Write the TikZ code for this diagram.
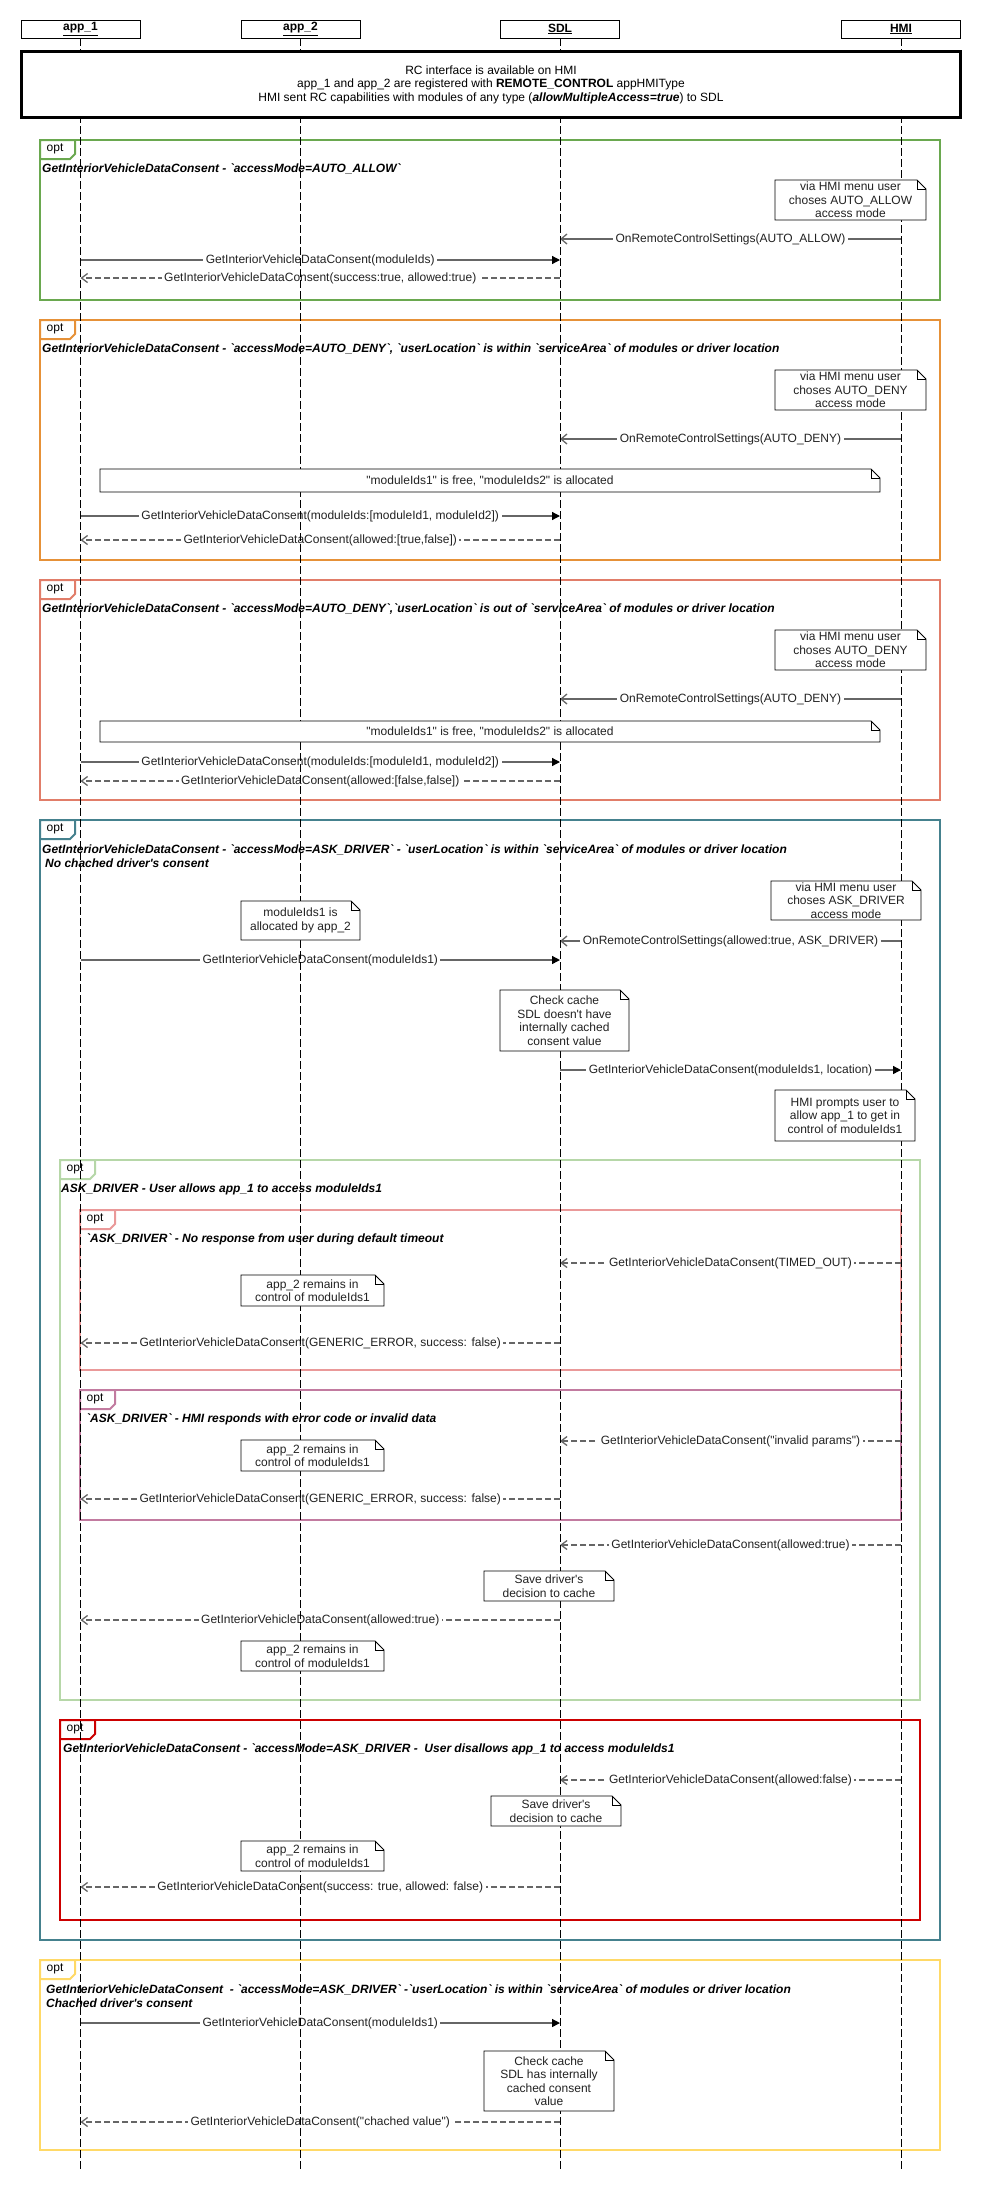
\documentclass[tikz,border=0pt]{standalone}
\usepackage{fontspec}
\setmainfont{Liberation Sans}[Ligatures=TeXOff]
\usetikzlibrary{arrows.meta}
\definecolor{cgreen}{RGB}{106,168,79}
\definecolor{corange}{RGB}{230,145,56}
\definecolor{csalmon}{RGB}{225,125,105}
\definecolor{cteal}{RGB}{69,129,142}
\definecolor{clgreen}{RGB}{182,215,168}
\definecolor{cpink}{RGB}{234,153,153}
\definecolor{cmag}{RGB}{194,123,160}
\definecolor{cred}{RGB}{204,0,0}
\definecolor{cyellow}{RGB}{255,217,102}
\definecolor{msgc}{RGB}{102,102,102}
\definecolor{txtc}{RGB}{34,34,34}

\newcommand\fsz{\fontsize{12}{13.5}\selectfont}

\tikzset{
  lifeline/.style={draw=black, line width=0.9pt, dash pattern=on 8pt off 3pt},
  hdrbox/.style={draw=black, fill=white, line width=0.9pt, minimum width=119pt, minimum height=18pt, inner sep=0pt, font=\fsz\bfseries},
  prebox/.style={draw=black, fill=white, line width=2.6pt, minimum width=939pt, minimum height=66pt, inner sep=0pt, align=center, font=\fsz},
  framebox/.style={line width=2pt},
  tabtext/.style={font=\fsz, inner sep=0pt},
  ttl/.style={font=\fsz\bfseries\itshape, anchor=west, inner sep=0pt, align=left},
  notebox/.style={draw=black, fill=white, line width=0.9pt},
  ntxt/.style={font=\fsz, align=center, inner sep=0pt, text=txtc},
  lbl/.style={fill=white, inner sep=2.5pt, font=\fsz, text=txtc},
  callmsg/.style={draw=msgc, line width=1.3pt, -{Triangle[length=8pt,width=8pt,color=black,fill=black]}},
  asyncmsg/.style={draw=msgc, line width=1.3pt, -{Straight Barb[length=6pt,width=10pt]}},
  retmsg/.style={draw=msgc, line width=1.3pt, dash pattern=on 6pt off 3pt, -{Straight Barb[length=6pt,width=9pt]}},
}

\newcommand\optframe[6]{%
  \coordinate (#1nw) at (#3,#4);
  \coordinate (#1se) at (#5,#6);
  \draw[framebox, draw=#2] (#1nw) rectangle (#1se);
  \draw[framebox, draw=#2, fill=white, line join=miter] (#1nw) -- ++(35,0) -- ++(0,14) -- ++(-5,5) -- ++(-30,0) -- cycle;
  \node[tabtext] (#1tab) at ([shift={(15,9)}]#1nw) {opt};}

\newcommand\unote[6]{%
  \draw[notebox] (#2,#3) -- (#4-9,#3) -- (#4,#3+9) -- (#4,#5) -- (#2,#5) -- cycle;
  \draw[notebox, fill=none] (#4-9,#3) -- (#4-9,#3+9) -- (#4,#3+9);
  \node[ntxt] (#1) at ({(#2+#4)/2},{(#3+#5)/2}) {#6};}

\newcommand\umsg[6]{%
  \coordinate (#2s) at (#3,#5);
  \coordinate (#2e) at (#4,#5);
  \draw[#1] (#2s) -- node[lbl] (#2l) {#6} (#2e);}

\def\lxA{80.5}
\def\lxB{300.5}
\def\lxS{560}
\def\lxH{901}

\begin{document}
\begin{tikzpicture}[x=1pt,y=-1pt]
\path[fill=white] (0,0) rectangle (986,2190);
\useasboundingbox (0,0) rectangle (986,2190);

% frames
\optframe{fa}{cgreen}{40}{140}{940}{300}
\optframe{fb}{corange}{40}{320}{940}{560}
\optframe{fc}{csalmon}{40}{580}{940}{800}
\optframe{fd}{cteal}{40}{820}{940}{1940}
\optframe{fe}{clgreen}{60}{1160}{920}{1700}
\optframe{ff}{cpink}{80}{1210}{901}{1370}
\optframe{fg}{cmag}{80}{1390}{901}{1520}
\optframe{fh}{cred}{60}{1720}{920}{1920}
\optframe{fi}{cyellow}{40}{1960}{940}{2150}

% titles
\node[ttl] (ta) at (42,169) {GetInteriorVehicleDataConsent - `accessMode=AUTO\_ALLOW`};
\node[ttl] (tb) at (42,349) {GetInteriorVehicleDataConsent - `accessMode=AUTO\_DENY`, `userLocation` is within `serviceArea` of modules or driver location};
\node[ttl] (tc) at (42,609) {GetInteriorVehicleDataConsent - `accessMode=AUTO\_DENY`,`userLocation` is out of `serviceArea` of modules or driver location};
\node[ttl] (td) at (42,856) {GetInteriorVehicleDataConsent - `accessMode=ASK\_DRIVER` - `userLocation` is within `serviceArea` of modules or driver location\\\hspace*{3pt}No chached driver's consent};
\node[ttl] (te) at (61,1189) {ASK\_DRIVER - User allows app\_1 to access moduleIds1};
\node[ttl] (tf) at (86,1239) {`ASK\_DRIVER` - No response from user during default timeout};
\node[ttl] (tg) at (86,1419) {`ASK\_DRIVER` - HMI responds with error code or invalid data};
\node[ttl] (th) at (63,1749) {GetInteriorVehicleDataConsent - `accessMode=ASK\_DRIVER -\ \ User disallows app\_1 to access moduleIds1};
\node[ttl] (ti) at (46,1996) {GetInteriorVehicleDataConsent\ \ - `accessMode=ASK\_DRIVER` -`userLocation` is within `serviceArea` of modules or driver location\\Chached driver's consent};

% messages
\umsg{asyncmsg}{ma1}{\lxH}{\lxS}{239}{OnRemoteControlSettings(AUTO\_ALLOW)}
\umsg{callmsg}{ma2}{\lxA}{\lxS}{260}{GetInteriorVehicleDataConsent(moduleIds)}
\umsg{retmsg}{ma3}{\lxS}{\lxA}{278}{GetInteriorVehicleDataConsent(success:true, allowed:true)}

\umsg{asyncmsg}{mb1}{\lxH}{\lxS}{439}{OnRemoteControlSettings(AUTO\_DENY)}
\umsg{callmsg}{mb2}{\lxA}{\lxS}{516}{GetInteriorVehicleDataConsent(moduleIds:[moduleId1, moduleId2])}
\umsg{retmsg}{mb3}{\lxS}{\lxA}{540}{GetInteriorVehicleDataConsent(allowed:[true,false])}

\umsg{asyncmsg}{mc1}{\lxH}{\lxS}{699}{OnRemoteControlSettings(AUTO\_DENY)}
\umsg{callmsg}{mc2}{\lxA}{\lxS}{762}{GetInteriorVehicleDataConsent(moduleIds:[moduleId1, moduleId2])}
\umsg{retmsg}{mc3}{\lxS}{\lxA}{781}{GetInteriorVehicleDataConsent(allowed:[false,false])}

\umsg{asyncmsg}{md1}{\lxH}{\lxS}{941}{OnRemoteControlSettings(allowed:true, ASK\_DRIVER)}
\umsg{callmsg}{md2}{\lxA}{\lxS}{960}{GetInteriorVehicleDataConsent(moduleIds1)}
\umsg{callmsg}{md3}{\lxS}{\lxH}{1070}{GetInteriorVehicleDataConsent(moduleIds1, location)}

\umsg{retmsg}{mf1}{\lxH}{\lxS}{1263}{GetInteriorVehicleDataConsent(TIMED\_OUT)}
\umsg{retmsg}{mf2}{\lxS}{\lxA}{1343}{GetInteriorVehicleDataConsent(GENERIC\_ERROR, success: false)}

\umsg{retmsg}{mg1}{\lxH}{\lxS}{1441}{GetInteriorVehicleDataConsent("invalid params")}
\umsg{retmsg}{mg2}{\lxS}{\lxA}{1499}{GetInteriorVehicleDataConsent(GENERIC\_ERROR, success: false)}

\umsg{retmsg}{me1}{\lxH}{\lxS}{1545}{GetInteriorVehicleDataConsent(allowed:true)}
\umsg{retmsg}{me2}{\lxS}{\lxA}{1620}{GetInteriorVehicleDataConsent(allowed:true)}

\umsg{retmsg}{mh1}{\lxH}{\lxS}{1780}{GetInteriorVehicleDataConsent(allowed:false)}
\umsg{retmsg}{mh2}{\lxS}{\lxA}{1887}{GetInteriorVehicleDataConsent(success: true, allowed: false)}

\umsg{callmsg}{mi1}{\lxA}{\lxS}{2023}{GetInteriorVehicleDataConsent(moduleIds1)}
\umsg{retmsg}{mi2}{\lxS}{\lxA}{2122}{GetInteriorVehicleDataConsent("chached value")}

% headers
\node[hdrbox] (hA) at (\lxA,29) {\underline{app\_1}};
\node[hdrbox] (hB) at (\lxB,29) {\underline{app\_2}};
\node[hdrbox] (hS) at (\lxS,29) {\underline{SDL}};
\node[hdrbox] (hH) at (\lxH,29) {\underline{HMI}};

% lifelines (drawn over message labels, under notes)
\coordinate (eA) at (\lxA,2170);
\coordinate (eB) at (\lxB,2170);
\coordinate (eS) at (\lxS,2170);
\coordinate (eH) at (\lxH,2170);
\draw[lifeline] (hA.south) -- (eA);
\draw[lifeline] (hB.south) -- (eB);
\draw[lifeline] (hS.south) -- (eS);
\draw[lifeline] (hH.south) -- (eH);

% precondition box
\node[prebox] (pre) at (491,84.5) {RC interface is available on HMI\\app\_1 and app\_2 are registered with \textbf{REMOTE\_CONTROL} appHMIType\\HMI sent RC capabilities with modules of any type (\textbf{\textit{allowMultipleAccess=true}}) to SDL};

% notes
\unote{na}{775}{180}{926}{220}{via HMI menu user\\choses AUTO\_ALLOW\\access mode}
\unote{nb}{775}{370}{926}{410}{via HMI menu user\\choses AUTO\_DENY\\access mode}
\unote{nbw}{100}{469}{880}{492}{"moduleIds1" is free, "moduleIds2" is allocated}
\unote{nc}{775}{630}{926}{670}{via HMI menu user\\choses AUTO\_DENY\\access mode}
\unote{ncw}{100}{721}{880}{742}{"moduleIds1" is free, "moduleIds2" is allocated}
\unote{ndh}{771}{881}{921}{920}{via HMI menu user\\choses ASK\_DRIVER\\access mode}
\unote{nda}{241}{901}{360}{940}{moduleIds1 is\\allocated by app\_2}
\unote{ndc}{500}{990}{629}{1051}{Check cache\\SDL doesn't have\\internally cached\\consent value}
\unote{ndp}{775}{1090}{915}{1141}{HMI prompts user to\\allow app\_1 to get in\\control of moduleIds1}
\unote{nfa}{241}{1275}{384}{1306}{app\_2 remains in\\control of moduleIds1}
\unote{nga}{241}{1440}{384}{1471}{app\_2 remains in\\control of moduleIds1}
\unote{nes}{484}{1571}{614}{1601}{Save driver's\\decision to cache}
\unote{nea}{241}{1641}{384}{1671}{app\_2 remains in\\control of moduleIds1}
\unote{nhs}{491}{1796}{621}{1826}{Save driver's\\decision to cache}
\unote{nha}{241}{1841}{384}{1871}{app\_2 remains in\\control of moduleIds1}
\unote{nic}{484}{2051}{614}{2111}{Check cache\\SDL has internally\\cached consent\\value}
\end{tikzpicture}
\end{document}
